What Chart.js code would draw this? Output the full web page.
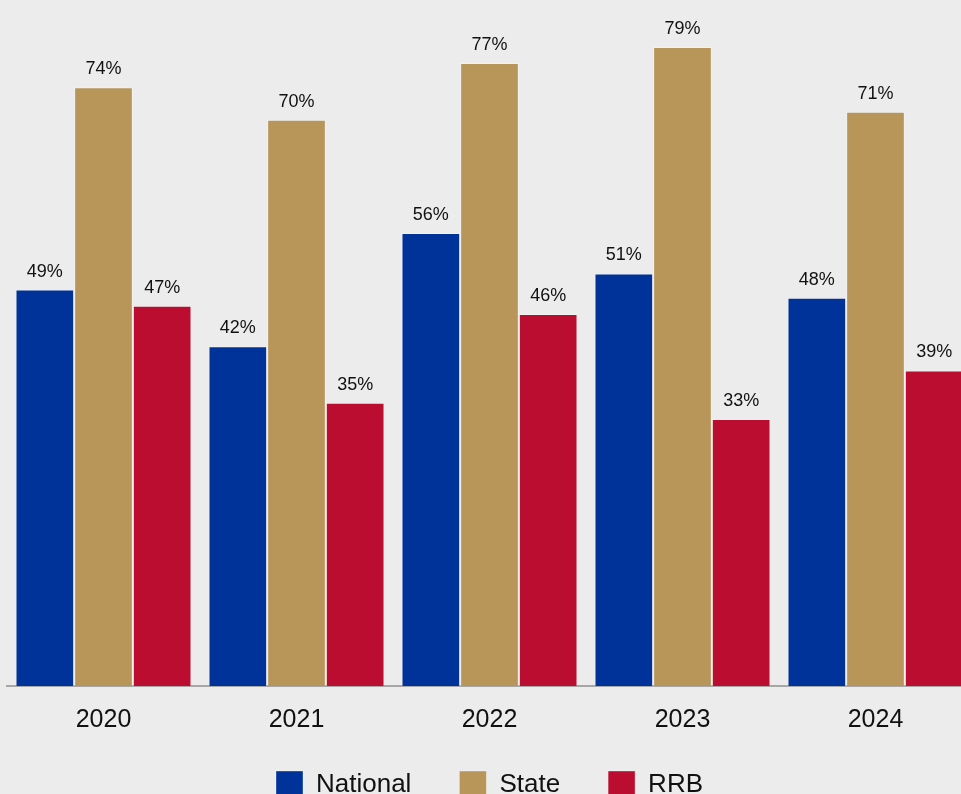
<!DOCTYPE html>
<html>
<head>
<meta charset="utf-8">
<script src="https://cdn.jsdelivr.net/npm/chart.js@4/dist/chart.umd.min.js"></script>
<style>
  html, body { margin: 0; padding: 0; background: #ececec; overflow: hidden; }
  #wrap { position: relative; width: 972px; height: 831px; }
</style>
</head>
<body>
<div id="wrap"><canvas id="chart"></canvas></div>
<script>
const years = ['2020', '2021', '2022', '2023', '2024'];
const nationalShare = [49, 42, 56, 51, 48];
const stateShare = [74, 70, 77, 79, 71];
const rrbShare = [47, 35, 46, 33, 39];

const FONT = '"Liberation Sans", Arial, sans-serif';

// Percentage labels above each bar
const valueLabels = {
  id: 'valueLabels',
  afterDatasetsDraw(chart) {
    const ctx = chart.ctx;
    ctx.save();
    ctx.font = '18px ' + FONT;
    ctx.fillStyle = '#111111';
    ctx.textAlign = 'center';
    ctx.textBaseline = 'middle';
    chart.data.datasets.forEach((ds, i) => {
      chart.getDatasetMeta(i).data.forEach((bar, j) => {
        ctx.fillText(ds.data[j] + '%', bar.x, bar.y - 18);
      });
    });
    ctx.restore();
  }
};

// Pull the legend a little closer to the year labels while keeping wide item spacing
const legendLift = {
  id: 'legendLift',
  afterLayout(chart) {
    const lg = chart.legend;
    if (lg) { lg.top -= 23; lg.bottom -= 23; }
  }
};

new Chart(document.getElementById('chart'), {
  type: 'bar',
  data: {
    labels: years,
    datasets: [
      { label: 'National', data: nationalShare, backgroundColor: '#003399' },
      { label: 'State', data: stateShare, backgroundColor: '#b8965a' },
      { label: 'RRB', data: rrbShare, backgroundColor: '#bb0d30' }
    ]
  },
  options: {
    responsive: true,
    maintainAspectRatio: false,
    animation: false,
    layout: { padding: { left: 7, right: 0, top: 0, bottom: 0 } },
    datasets: {
      bar: {
        categoryPercentage: 0.912,
        barPercentage: 1,
        borderWidth: 1,
        borderColor: 'rgba(255,255,255,0.35)'
      }
    },
    scales: {
      x: {
        grid: { display: false },
        border: { display: true, color: '#a6a6a6', width: 2 },
        ticks: { color: '#111111', font: { family: FONT, size: 25 }, padding: 11 }
      },
      y: {
        display: false,
        min: 0,
        max: 84.8
      }
    },
    plugins: {
      legend: {
        position: 'bottom',
        labels: {
          boxWidth: 27,
          boxHeight: 27,
          padding: 48,
          color: '#111111',
          font: { family: FONT, size: 26 }
        }
      },
      tooltip: { enabled: false }
    }
  },
  plugins: [valueLabels, legendLift]
});
</script>
</body>
</html>
